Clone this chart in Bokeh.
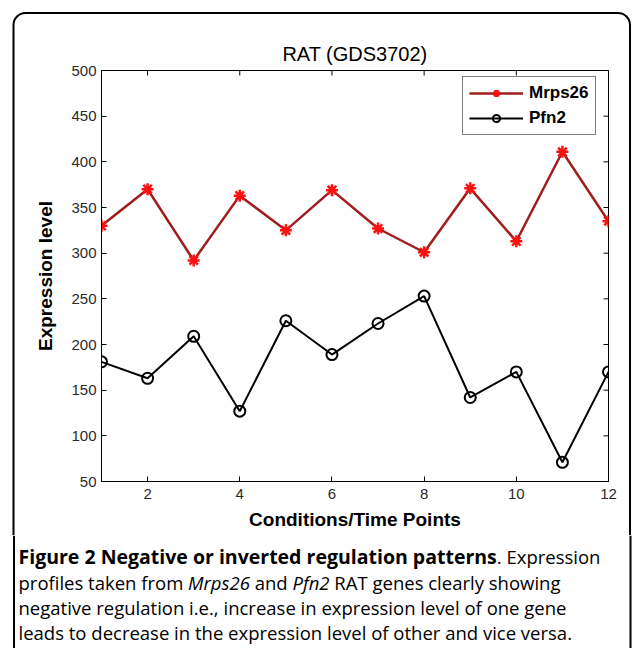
import math
from bokeh.plotting import figure
from bokeh.layouts import column, row
from bokeh.models import Range1d, FixedTicker, Legend, LegendItem, Div
from bokeh.core.properties import value
from bokeh.embed import file_html
from bokeh.resources import INLINE

# ---------------- data ----------------
conditions = [1, 2, 3, 4, 5, 6, 7, 8, 9, 10, 11, 12]
mrps26 = [330, 370, 292, 363, 325, 369, 327, 301, 371, 313, 411, 335]
pfn2 = [181, 163, 209, 127, 226, 189, 223, 253, 142, 170, 71, 170]
x_ticks = [2, 4, 6, 8, 10, 12]
y_ticks = [50, 100, 150, 200, 250, 300, 350, 400, 450, 500]
x_limits = [1, 12]
y_limits = [50, 500]
series_names = ["Mrps26", "Pfn2"]
title_text = "RAT (GDS3702)"
x_label = "Conditions/Time Points"
y_label = "Expression level"
caption_lines = [
    [("Figure 2 Negative or inverted regulation patterns", "bold"), (". Expression", "normal")],
    [("profiles taken from ", "normal"), ("Mrps26", "italic"), (" and ", "normal"),
     ("Pfn2", "italic"), (" RAT genes clearly showing", "normal")],
    [("negative regulation i.e., increase in expression level of one gene", "normal")],
    [("leads to decrease in the expression level of other and vice versa.", "normal")],
]

# ---------------- helpers ----------------
_font_cache = {}


def _load_font(family, style):
    import subprocess
    from PIL import ImageFont
    spec = family + (":" + style if style != "normal" else "")
    path = subprocess.run(["fc-match", "-f", "%{file}", spec],
                          capture_output=True, text=True).stdout.strip()
    f = ImageFont.truetype(path, 100)
    try:
        axes = f.get_variation_axes()
        vals = []
        for a in axes:
            nm = a.get("name", "")
            if isinstance(nm, bytes):
                nm = nm.decode("utf-8", "ignore")
            nm = str(nm).lower()
            if "weight" in nm or "wght" in nm:
                vals.append(700 if style == "bold" else 400)
            elif "width" in nm or "wdth" in nm:
                vals.append(100)
            elif "ital" in nm:
                vals.append(1 if style == "italic" else 0)
            else:
                vals.append(a.get("default", a.get("minimum", 0)))
        f.set_variation_by_axes(vals)
    except Exception:
        pass
    return f


def text_width(txt, family, style, size_px):
    key = (family, style)
    try:
        if key not in _font_cache:
            _font_cache[key] = _load_font(family, style)
        return _font_cache[key].getlength(txt) * size_px / 100.0
    except Exception:
        return len(txt) * 0.5 * size_px * (1.08 if style == "bold" else 1.0)


# layout sizes (px)
TOTAL_W = 635
TOP_H = 30
MID_H = 505
CAP_H = 113
LEFT_W = 20
RIGHT_W = 15
CHART_W = TOTAL_W - LEFT_W - RIGHT_W
BX_L = 13.5           # left border line (page coords)
BX_R = 630.0          # right border line
BY_T = 13.0           # top border line
RAD = 12.0
LW_BORDER = 2


def svg_div(w, h, inner):
    html = (f'<svg xmlns="http://www.w3.org/2000/svg" width="{w}" height="{h}" '
            f'style="display:block" viewBox="0 0 {w} {h}">{inner}</svg>')
    return Div(text=html, width=w, height=h, margin=0,
               styles={"padding": "0", "margin": "0", "overflow": "hidden"})


# ---------------- top strip: rounded border top ----------------
top_path = (f'<path d="M{BX_L},{TOP_H} V{BY_T + RAD} A{RAD},{RAD} 0 0 1 {BX_L + RAD},{BY_T} '
            f'H{BX_R - RAD} A{RAD},{RAD} 0 0 1 {BX_R},{BY_T + RAD} V{TOP_H}" '
            f'fill="none" stroke="black" stroke-width="{LW_BORDER}"/>')
top = svg_div(TOTAL_W, TOP_H, top_path)

# ---------------- left / right border strips ----------------
left = svg_div(LEFT_W, MID_H,
               f'<line x1="{BX_L}" y1="0" x2="{BX_L}" y2="{MID_H}" stroke="black" '
               f'stroke-width="{LW_BORDER}"/>')
rx = BX_R - LEFT_W - CHART_W
right = svg_div(RIGHT_W, MID_H,
                f'<line x1="{rx}" y1="0" x2="{rx}" y2="{MID_H}" stroke="black" '
                f'stroke-width="{LW_BORDER}"/>')

# ---------------- chart ----------------
p = figure(width=CHART_W, height=MID_H,
           x_range=Range1d(*x_limits), y_range=Range1d(*y_limits),
           output_backend="svg", toolbar_location=None,
           min_border_left=81, min_border_right=12, min_border_top=40, min_border_bottom=54,
           background_fill_color="white", border_fill_color="white",
           outline_line_color="black", outline_line_width=1)
p.grid.visible = False
p.title.text = title_text
p.title.align = "center"
p.title.vertical_align = "top"
p.title.standoff = 8
p.title.text_font = "Liberation Sans"
p.title.text_font_style = "normal"
p.title.text_font_size = "20px"
p.title.text_color = "black"

for ax, ticks in ((p.xaxis[0], x_ticks), (p.yaxis[0], y_ticks)):
    ax.ticker = FixedTicker(ticks=ticks)
    ax.axis_line_color = "black"
    ax.axis_line_width = 1
    ax.major_tick_in = 5
    ax.major_tick_out = 0
    ax.major_tick_line_color = "black"
    ax.minor_tick_line_color = None
    ax.major_label_text_font = "Liberation Sans"
    ax.major_label_text_font_size = "15px"
    ax.major_label_text_color = "#2a2a2a"
    ax.axis_label_text_font = "Liberation Sans"
    ax.axis_label_text_font_style = "bold"
    ax.axis_label_text_font_size = "19px"
    ax.axis_label_text_color = "black"
p.xaxis[0].axis_label = x_label
p.xaxis[0].major_label_standoff = 7
p.xaxis[0].axis_label_standoff = 7
p.yaxis[0].axis_label = y_label
p.yaxis[0].major_label_standoff = 5
p.yaxis[0].axis_label_standoff = 12

# inward ticks on the top and right edges of the box (half outside is clipped)
p.scatter(x=x_ticks, y=[y_limits[1]] * len(x_ticks), marker="dash", angle=math.pi / 2,
          size=10, line_color="black", line_width=1)
p.scatter(x=[x_limits[1]] * len(y_ticks), y=y_ticks, marker="dash",
          size=10, line_color="black", line_width=1)

l1 = p.line(conditions, mrps26, line_color="#a11d1d", line_width=2.5)
s1 = p.scatter(conditions, mrps26, marker="asterisk", size=12,
               line_color="#ff1010", line_width=2.5)
l2 = p.line(conditions, pfn2, line_color="black", line_width=2)
s2 = p.scatter(conditions, pfn2, marker="circle", size=11,
               line_color="black", line_width=2, fill_color=None)

legend = Legend(items=[LegendItem(label=series_names[0], renderers=[l1, s1]),
                       LegendItem(label=series_names[1], renderers=[l2, s2])],
                location=(361, 346), orientation="vertical",
                padding=6, spacing=5, margin=0,
                glyph_width=54, glyph_height=18, label_height=18, label_standoff=6,
                label_text_font="Liberation Sans", label_text_font_style="bold",
                label_text_font_size="17px", label_text_color="black",
                border_line_color="black", border_line_width=1,
                background_fill_color="white", background_fill_alpha=1)
p.add_layout(legend, "center")

# ---------------- caption strip ----------------
cap = figure(width=TOTAL_W, height=CAP_H, x_range=Range1d(0, TOTAL_W),
             y_range=Range1d(CAP_H, 0), output_backend="svg", toolbar_location=None,
             min_border=0, x_axis_location=None, y_axis_location=None,
             outline_line_color=None, background_fill_color="white",
             border_fill_color="white")
cap.grid.visible = False
cap.line([BX_L, BX_L], [0, CAP_H], line_color="black", line_width=LW_BORDER)
cap.line([BX_R, BX_R], [0, CAP_H], line_color="black", line_width=LW_BORDER)
cap_font = "Open Sans"
cap_sizes = {"normal": 18.5, "italic": 18.5, "bold": 19.5}
cap_x0 = 18
cap_ys = [21, 47, 72, 97]
for segs, yy in zip(caption_lines, cap_ys):
    xoff = 0.0
    for txt, style in segs:
        size = cap_sizes[style]
        lead = len(txt) - len(txt.lstrip(" "))
        xs = cap_x0 + xoff + text_width(" " * lead, cap_font, style, size)
        cap.text(x=[xs], y=[yy], text=[txt.strip()], text_align="left",
                 text_baseline="middle", text_font=value(cap_font),
                 text_font_style=style, text_font_size=f"{size}px",
                 text_color="black")
        xoff += text_width(txt, cap_font, style, size)

layout = column(top, row(left, p, right), cap)
open("out.html", "w").write(file_html(layout, INLINE))
